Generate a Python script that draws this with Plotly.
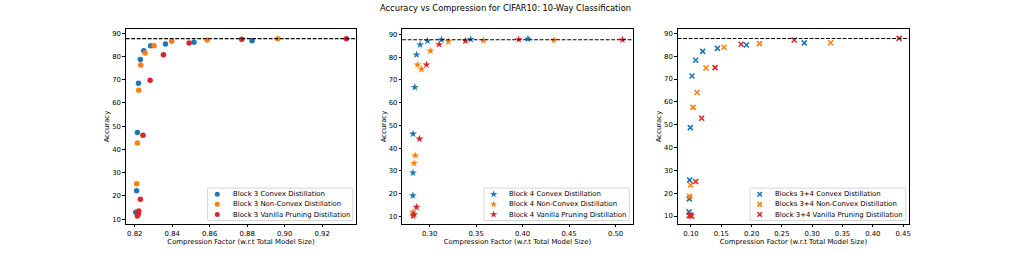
import plotly.graph_objects as go

TITLE = "Accuracy vs Compression for CIFAR10: 10-Way Classification"
X_LABEL = "Compression Factor (w.r.t Total Model Size)"
Y_LABEL = "Accuracy"
BASELINE_ACC = 87.7

# ---------------- Panel 1 : Block 3 ----------------
b3_names = ["Block 3 Convex Distillation", "Block 3 Non-Convex Distillation",
            "Block 3 Vanilla Pruning Distillation"]
b3_convex_x = [0.8205, 0.8210, 0.8214, 0.8220, 0.8230, 0.8248, 0.8285, 0.8364, 0.8516, 0.8826]
b3_convex_y = [13.0, 22.2, 47.3, 68.5, 78.7, 82.5, 84.6, 85.4, 86.1, 86.8]
b3_nonconvex_x = [0.8210, 0.8214, 0.8221, 0.8232, 0.8255, 0.8303, 0.8397, 0.8586, 0.8963]
b3_nonconvex_y = [25.2, 42.8, 65.5, 76.4, 81.5, 84.6, 86.6, 87.1, 87.6]
b3_vanilla_x = [0.8214, 0.8217, 0.8219, 0.8221, 0.8230, 0.8244, 0.8282, 0.8353, 0.8490, 0.8771, 0.9329]
b3_vanilla_y = [11.3, 12.0, 12.5, 13.5, 18.6, 46.1, 69.8, 80.8, 85.8, 87.4, 87.7]
b3_xticks = [0.82, 0.84, 0.86, 0.88, 0.90, 0.92]

# ---------------- Panel 2 : Block 4 ----------------
b4_names = ["Block 4 Convex Distillation", "Block 4 Non-Convex Distillation",
            "Block 4 Vanilla Pruning Distillation"]
b4_convex_x = [0.2820, 0.2821, 0.2822, 0.2841, 0.2859, 0.2898, 0.2977, 0.3127, 0.3442, 0.4058]
b4_convex_y = [19.2, 29.2, 46.3, 66.8, 81.1, 85.5, 87.2, 87.7, 87.9, 88.1]
b4_nonconvex_x = [0.2820, 0.2834, 0.2845, 0.2870, 0.2912, 0.3009, 0.3202, 0.3578, 0.4337]
b4_nonconvex_y = [11.9, 33.4, 36.8, 76.7, 74.8, 82.8, 86.9, 87.4, 87.5]
b4_vanilla_x = [0.2822, 0.2833, 0.2859, 0.2891, 0.2966, 0.3102, 0.3385, 0.3958, 0.5074]
b4_vanilla_y = [10.3, 11.0, 14.1, 44.1, 76.7, 85.6, 87.2, 87.8, 87.7]
b4_xticks = [0.30, 0.35, 0.40, 0.45, 0.50]

# ---------------- Panel 3 : Blocks 3+4 ----------------
b34_names = ["Blocks 3+4 Convex Distillation", "Blocks 3+4 Non-Convex Distillation",
             "Block 3+4 Vanilla Pruning Distillation"]
b34_convex_x = [0.0967, 0.0972, 0.0978, 0.0989, 0.1017, 0.1077, 0.1193, 0.1436, 0.1915, 0.2869]
b34_convex_y = [11.8, 17.5, 25.7, 48.7, 71.3, 78.2, 82.1, 83.4, 84.9, 85.8]
b34_nonconvex_x = [0.0978, 0.0994, 0.1033, 0.1099, 0.1248, 0.1546, 0.2130, 0.3304]
b34_nonconvex_y = [18.6, 23.6, 57.6, 64.1, 74.8, 83.9, 85.5, 85.9]
b34_vanilla_x = [0.0970, 0.0990, 0.1010, 0.1077, 0.1176, 0.1397, 0.1827, 0.2703, 0.4434]
b34_vanilla_y = [10.1, 10.4, 9.9, 25.1, 52.8, 75.0, 85.2, 87.1, 87.8]
b34_xticks = [0.10, 0.15, 0.20, 0.25, 0.30, 0.35, 0.40, 0.45]

y_ticks = [10, 20, 30, 40, 50, 60, 70, 80, 90]

COLORS = ["#1f77b4", "#ff7f0e", "#d62728"]
FONT = "DejaVu Sans"
W, H = 1013, 253
FS = 6.9

panels = [
    dict(names=b3_names, xs=[b3_convex_x, b3_nonconvex_x, b3_vanilla_x],
         ys=[b3_convex_y, b3_nonconvex_y, b3_vanilla_y], xticks=b3_xticks,
         symbol="circle", msize=5.5, px=(126, 357), xr=[0.8152, 0.9382], yr=[7.9, 91.85],
         legw=145.5),
    dict(names=b4_names, xs=[b4_convex_x, b4_nonconvex_x, b4_vanilla_x],
         ys=[b4_convex_y, b4_nonconvex_y, b4_vanilla_y], xticks=b4_xticks,
         symbol="star", msize=6, px=(403, 634), xr=[0.2705, 0.5185], yr=[6.7, 92.4],
         legw=145.5),
    dict(names=b34_names, xs=[b34_convex_x, b34_nonconvex_x, b34_vanilla_x],
         ys=[b34_convex_y, b34_nonconvex_y, b34_vanilla_y], xticks=b34_xticks,
         symbol="x-thin", msize=5, px=(679, 911), xr=[0.078, 0.46], yr=[6.5, 91.9],
         legw=156),
]

TOP, BOTTOM = 29, 224


def fx(p):
    return p / W


def fy(p):
    return 1 - p / H


fig = go.Figure()
shapes = []
annotations = []
leg_x, leg_y, leg_sym, leg_col, leg_size = [], [], [], [], []

for i, pnl in enumerate(panels):
    k = "" if i == 0 else str(i + 1)
    xa, ya = "x" + k, "y" + k
    for s in range(3):
        if pnl["symbol"] == "x-thin":
            marker = dict(symbol="x-thin", size=pnl["msize"], color=COLORS[s], opacity=1,
                          line=dict(width=1.6, color=COLORS[s]))
        else:
            marker = dict(symbol=pnl["symbol"], size=pnl["msize"], color=COLORS[s], opacity=1,
                          line=dict(width=0))
        fig.add_trace(go.Scatter(x=pnl["xs"][s], y=pnl["ys"][s], mode="markers",
                                 name=pnl["names"][s], marker=marker, showlegend=False,
                                 xaxis=xa, yaxis=ya, cliponaxis=False))
    axcommon = dict(showline=True, mirror=True, linecolor="black", linewidth=0.8,
                    ticks="outside", ticklen=2.5, tickwidth=0.8, tickcolor="black",
                    showgrid=False, zeroline=False,
                    tickfont=dict(family=FONT, size=FS, color="black"))
    fig.update_layout(**{
        "xaxis" + k: dict(domain=[fx(pnl["px"][0]), fx(pnl["px"][1])], range=pnl["xr"],
                          anchor=ya, tickvals=pnl["xticks"], tickformat=".2f",
                          title=dict(text=X_LABEL, standoff=2,
                                     font=dict(family=FONT, size=FS, color="black")),
                          **axcommon),
        "yaxis" + k: dict(domain=[fy(BOTTOM), fy(TOP)], range=pnl["yr"], anchor=xa,
                          tickvals=y_ticks,
                          title=dict(text=Y_LABEL, standoff=1,
                                     font=dict(family=FONT, size=FS, color="black")),
                          **axcommon),
    })
    # baseline dashed line
    shapes.append(dict(type="line", xref=xa + " domain", yref=ya, x0=0, x1=1,
                       y0=BASELINE_ACC, y1=BASELINE_ACC, layer="above",
                       line=dict(color="black", width=1.05, dash="3.8px,1.7px")))
    # legend box (matplotlib-style, lower right)
    rx = pnl["px"][1] - 3.5
    by = BOTTOM - 3.5
    lx = rx - pnl["legw"]
    ty = by - 32.4
    shapes.append(dict(type="rect", xref="paper", yref="paper",
                       x0=fx(lx), x1=fx(rx), y0=fy(by), y1=fy(ty), layer="below",
                       fillcolor="rgba(255,255,255,0.8)",
                       line=dict(color="#cccccc", width=0.8)))
    for s in range(3):
        rowy = ty + 6.1 + 10.15 * s
        leg_x.append(lx + 9.7)
        leg_y.append(rowy)
        leg_sym.append(pnl["symbol"])
        leg_col.append(COLORS[s])
        leg_size.append(pnl["msize"] - 0.5)
        annotations.append(dict(text=pnl["names"][s], xref="paper", yref="paper",
                                x=fx(lx + 23.4), y=fy(rowy), xanchor="left",
                                yanchor="middle", showarrow=False,
                                font=dict(family=FONT, size=FS, color="black")))

# legend swatches drawn on a pixel-space overlay axis
fig.add_trace(go.Scatter(x=leg_x, y=leg_y, mode="markers", showlegend=False,
                         hoverinfo="skip", xaxis="x4", yaxis="y4",
                         marker=dict(symbol=leg_sym, size=leg_size, color=leg_col, opacity=1,
                                     line=dict(width=[1.6 if s == "x-thin" else 0 for s in leg_sym],
                                               color=leg_col))))
fig.update_layout(
    xaxis4=dict(domain=[0, 1], range=[0, W], visible=False, anchor="y4", fixedrange=True),
    yaxis4=dict(domain=[0, 1], range=[H, 0], visible=False, anchor="x4", fixedrange=True),
)

fig.update_layout(
    width=W, height=H, autosize=False,
    margin=dict(l=0, r=0, t=0, b=0),
    paper_bgcolor="white", plot_bgcolor="rgba(0,0,0,0)",
    font=dict(family=FONT, size=FS, color="black"),
    title=dict(text=TITLE, x=0.5, xanchor="center", y=1 - 8.5 / H, yanchor="middle",
               xref="paper", yref="container",
               font=dict(family=FONT, size=8.3, color="black")),
    shapes=shapes, annotations=annotations,
    showlegend=False,
)

fig.write_html("out.html", config={"displayModeBar": False},
               post_script="document.body.style.margin='0';")
